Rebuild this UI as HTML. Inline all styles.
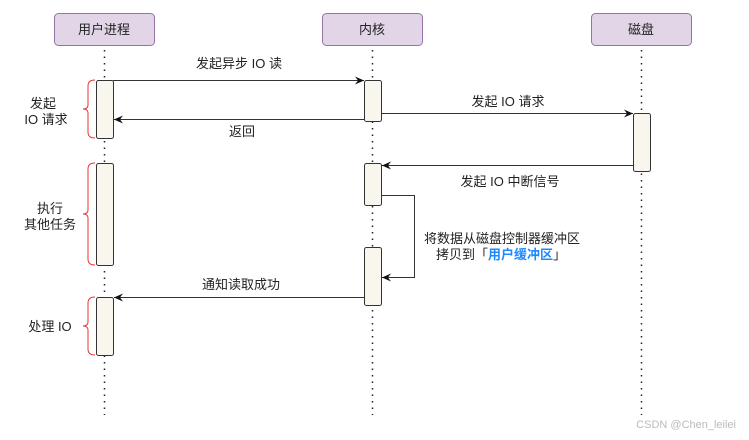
<!DOCTYPE html>
<html><head><meta charset="utf-8"><style>
body{margin:0;background:#fff;}
text{font-family:"Liberation Sans","Noto Sans CJK SC",sans-serif;font-size:13px;fill:#222;}
</style></head><body>
<svg width="749" height="435" viewBox="0 0 749 435" xmlns="http://www.w3.org/2000/svg">
<defs><marker id="a" markerWidth="10" markerHeight="8" refX="9" refY="4" orient="auto" markerUnits="userSpaceOnUse"><path d="M0,0 L9,4 L0,8 L3,4 Z" fill="#111"/></marker></defs>
<g fill="#e1d5e7" stroke="#9673a6" stroke-width="1">
<rect x="54.5" y="13.5" width="100" height="32" rx="4"/>
<rect x="322.5" y="13.5" width="100" height="32" rx="4"/>
<rect x="591.5" y="13.5" width="100" height="32" rx="4"/>
</g>
<text x="104" y="34" text-anchor="middle">用户进程</text>
<text x="372" y="34" text-anchor="middle">内核</text>
<text x="641" y="34" text-anchor="middle">磁盘</text>
<g stroke="#222" stroke-width="1.5" stroke-dasharray="1.5,5">
<line x1="104.5" y1="50" x2="104.5" y2="415"/>
<line x1="372.5" y1="50" x2="372.5" y2="415"/>
<line x1="641.5" y1="50" x2="641.5" y2="415"/>
</g>
<g fill="#f9f7ed" stroke="#333" stroke-width="1">
<rect x="96.5" y="80.5" width="17" height="58" rx="2"/>
<rect x="96.5" y="163.5" width="17" height="102" rx="2"/>
<rect x="96.5" y="297.5" width="17" height="58" rx="2"/>
<rect x="364.5" y="80.5" width="17" height="41" rx="2"/>
<rect x="364.5" y="163.5" width="17" height="42" rx="2"/>
<rect x="364.5" y="247.5" width="17" height="58" rx="2"/>
<rect x="633.5" y="113.5" width="17" height="58" rx="2"/>
</g>
<g stroke="#333" stroke-width="1" fill="none" marker-end="url(#a)">
<line x1="113" y1="80.5" x2="364" y2="80.5"/>
<line x1="364" y1="119.5" x2="114" y2="119.5"/>
<line x1="381" y1="113.5" x2="633" y2="113.5"/>
<line x1="633" y1="165.5" x2="382" y2="165.5"/>
<polyline points="381,195.5 414.5,195.5 414.5,277.5 382,277.5"/>
<line x1="364" y1="297.5" x2="114" y2="297.5"/>
</g>
<g stroke="#e33" stroke-width="1" fill="none">
<path d="M95,80 Q88,80 88,86 L88,105 Q88,109 83,109 Q88,109 88,113 L88,132 Q88,138 95,138"/>
<path d="M95,163 Q88,163 88,169 L88,210 Q88,214 83,214 Q88,214 88,218 L88,259 Q88,265 95,265"/>
<path d="M95,297 Q88,297 88,303 L88,322 Q88,326 83,326 Q88,326 88,330 L88,349 Q88,355 95,355"/>
</g>
<text x="239" y="68" text-anchor="middle">发起异步 IO 读</text>
<text x="242" y="136" text-anchor="middle">返回</text>
<text x="508" y="106" text-anchor="middle">发起 IO 请求</text>
<text x="510" y="186" text-anchor="middle">发起 IO 中断信号</text>
<text x="502" y="243" text-anchor="middle">将数据从磁盘控制器缓冲区</text>
<text x="436" y="259">拷贝到「<tspan font-weight="bold" style="fill:#1e88ff">用户缓冲区</tspan>」</text>
<text x="241" y="289" text-anchor="middle">通知读取成功</text>
<text x="43" y="108" text-anchor="middle">发起</text>
<text x="46" y="124" text-anchor="middle">IO 请求</text>
<text x="50" y="213" text-anchor="middle">执行</text>
<text x="50" y="229" text-anchor="middle">其他任务</text>
<text x="50" y="331" text-anchor="middle">处理 IO</text>
<text x="736" y="428" text-anchor="end" style="fill:#bbb;font-size:11px">CSDN @Chen_leilei</text>
</svg>
</body></html>
